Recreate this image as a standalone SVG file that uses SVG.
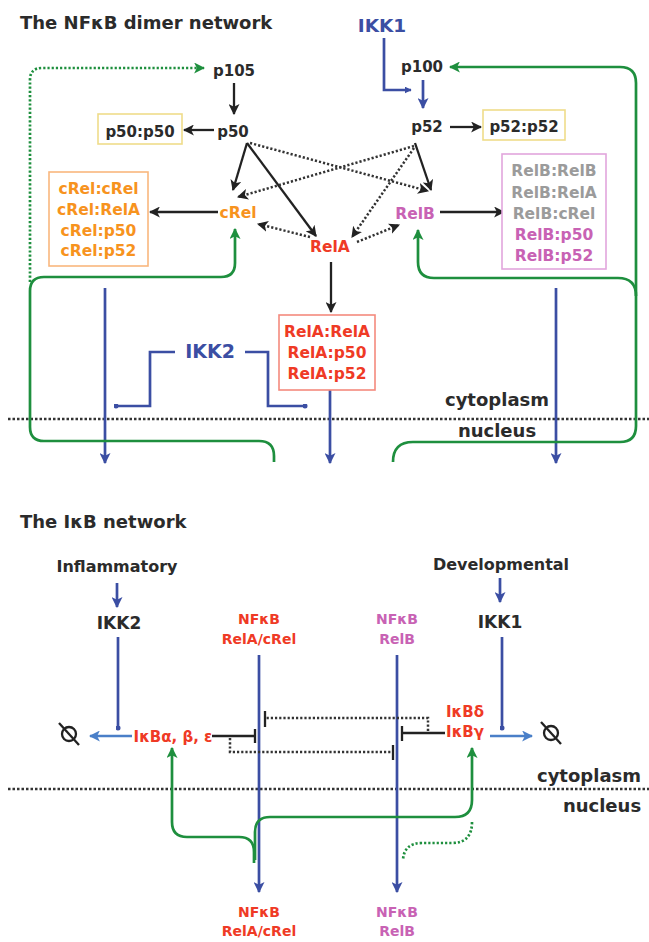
<svg xmlns="http://www.w3.org/2000/svg" width="649" height="942" viewBox="0 0 649 942">
<style>
text{font-family:"DejaVu Sans","Liberation Sans",sans-serif;font-weight:bold}
.dk{fill:#2b2b2b}
.bl{fill:#3b4ea3}
.rd{fill:#ef3a25}
.or{fill:#f7931e}
.pk{fill:#c862b4}
.gy{fill:#9b9b9b}
.c{text-anchor:middle}
.ln{fill:none;stroke:#222;stroke-width:2.3}
.dt{fill:none;stroke:#333;stroke-width:2.5;stroke-dasharray:2.2 2}
.bu{fill:none;stroke:#3b4ea3;stroke-width:2.7}
.lb{fill:none;stroke:#4a7fc8;stroke-width:2.7}
.gr{fill:none;stroke:#1e8f3e;stroke-width:2.7}
.gd{fill:none;stroke:#1e8f3e;stroke-width:2.7;stroke-dasharray:2.2 2}
.div{fill:none;stroke:#333;stroke-width:2.7;stroke-dasharray:2.5 2}
.box{fill:#fff;stroke-width:1.6}
</style>
<defs>
<marker id="ak" markerUnits="userSpaceOnUse" viewBox="0 0 10 10" refX="9" refY="5" markerWidth="11" markerHeight="11" orient="auto"><path d="M0,0 L10,5 L0,10 L2.5,5 z" fill="#222"/></marker>
<marker id="ab" markerUnits="userSpaceOnUse" viewBox="0 0 10 10" refX="9" refY="5" markerWidth="11" markerHeight="11" orient="auto"><path d="M0,0 L10,5 L0,10 L2.5,5 z" fill="#3b4ea3"/></marker>
<marker id="alb" markerUnits="userSpaceOnUse" viewBox="0 0 10 10" refX="9" refY="5" markerWidth="11" markerHeight="11" orient="auto"><path d="M0,0 L10,5 L0,10 L2.5,5 z" fill="#4a7fc8"/></marker>
<marker id="asb" markerUnits="userSpaceOnUse" viewBox="0 0 10 10" refX="9" refY="5" markerWidth="7" markerHeight="7" orient="auto"><path d="M0,0 L10,5 L0,10 z" fill="#3b4ea3"/></marker>
<marker id="ag" markerUnits="userSpaceOnUse" viewBox="0 0 10 10" refX="9" refY="5" markerWidth="11" markerHeight="11" orient="auto"><path d="M0,0 L10,5 L0,10 L2.5,5 z" fill="#1e8f3e"/></marker>
<marker id="db" markerUnits="userSpaceOnUse" viewBox="0 0 10 10" refX="5" refY="5" markerWidth="5" markerHeight="5"><circle cx="5" cy="5" r="5" fill="#3b4ea3"/></marker>
</defs>

<!-- titles and dividers -->
<text x="20" y="29" font-size="18" class="dk">The NFκB dimer network</text>
<text x="20" y="528" font-size="18" class="dk">The IκB network</text>
<path class="div" d="M8,419 L649,419"/>
<path class="div" d="M8,789 L649,789"/>
<text x="497" y="406" font-size="18" class="dk c">cytoplasm</text>
<text x="497" y="437" font-size="18" class="dk c">nucleus</text>
<text x="589" y="782" font-size="18" class="dk c">cytoplasm</text>
<text x="602" y="812" font-size="18" class="dk c">nucleus</text>

<!-- connectors -->
<g id="connectors">
<path class="ln" d="M234,83 L234,114" marker-end="url(#ak)"/>
<path class="ln" d="M214,130 L184,130" marker-end="url(#ak)"/>
<path class="ln" d="M247,143 L233,190" marker-end="url(#ak)"/>
<path class="ln" d="M247,143 L316,236" marker-end="url(#ak)"/>
<path class="dt" d="M250,143 L428,191" marker-end="url(#ak)"/>
<path class="dt" d="M414,146 L238,197" marker-end="url(#ak)"/>
<path class="dt" d="M414,148 L352,237" marker-end="url(#ak)"/>
<path class="ln" d="M415,143 L431,190" marker-end="url(#ak)"/>
<path class="dt" d="M310,237 L258,224" marker-end="url(#ak)"/>
<path class="dt" d="M357,242 L399,225" marker-end="url(#ak)"/>
<path class="ln" d="M218,212 L150,212" marker-end="url(#ak)"/>
<path class="ln" d="M440,212 L504,212" marker-end="url(#ak)"/>
<path class="ln" d="M450,127 L481,127" marker-end="url(#ak)"/>
<path class="ln" d="M331,262 L331,312" marker-end="url(#ak)"/>

<path class="bu" d="M384,38 L384,90 L411,90" marker-end="url(#asb)"/>
<path class="bu" d="M423,80 L423,108" marker-end="url(#ab)"/>
<path class="bu" d="M105,288 L105,463" marker-end="url(#ab)"/>
<path class="bu" d="M330,390 L330,463" marker-end="url(#ab)"/>
<path class="bu" d="M556,288 L556,463" marker-end="url(#ab)"/>
<path class="bu" d="M175,352 L150,352 L150,406 L116,406" marker-end="url(#db)"/>
<path class="bu" d="M245,352 L268,352 L268,406 L305,406" marker-end="url(#db)"/>

<path class="gd" d="M30,282 L30,80 Q30,68 42,68 L204,68" marker-end="url(#ag)"/>
<path class="gr" d="M274,462 L274,456 Q274,441 259,441 L44,441 Q30,441 30,427 L30,291 Q30,277 44,277 L221,277 Q235,277 235,263 L235,229" marker-end="url(#ag)"/>
<path class="gr" d="M393,462 Q393,442 413,442 L620,442 Q636,442 636,426 L636,83 Q636,67 620,67 L450,67" marker-end="url(#ag)"/>
<path class="gr" d="M636,296 Q636,278 618,278 L434,278 Q418,278 418,262 L418,230" marker-end="url(#ag)"/>

<path class="bu" d="M117,583 L117,607" marker-end="url(#ab)"/>
<path class="bu" d="M118,637 L118,728" marker-end="url(#db)"/>
<path class="lb" d="M132,736 L90,736" marker-end="url(#alb)"/>
<path class="bu" d="M500,578 L500,602" marker-end="url(#ab)"/>
<path class="bu" d="M502,637 L502,728" marker-end="url(#db)"/>
<path class="lb" d="M490,736 L532,736" marker-end="url(#alb)"/>
<path class="bu" d="M259,655 L259,892" marker-end="url(#ab)"/>
<path class="bu" d="M397,655 L397,892" marker-end="url(#ab)"/>

<path class="ln" d="M212,736 L255,736 M255,729 L255,743"/>
<path class="dt" d="M230,738 L230,752 L393,752"/>
<path class="ln" d="M393,745 L393,760"/>
<path class="dt" d="M428,731 L428,718 L266,718"/>
<path class="ln" d="M265,711 L265,727"/>
<path class="ln" d="M445,733 L402,733 M402,726 L402,741"/>

<path class="gr" d="M254,863 L254,852 Q254,837 239,837 L187,837 Q172,837 172,822 L172,748" marker-end="url(#ag)"/>
<path class="gr" d="M255,860 L255,832 Q255,817 270,817 L455,817 Q472,817 472,800 L472,748" marker-end="url(#ag)"/>
<path class="gd" d="M472,822 Q472,843 452,843 L422,843 Q404,843 403,860"/>
</g>

<!-- nodes -->
<g id="p105"><text x="234" y="76" font-size="15" class="dk c">p105</text></g>
<g id="p50"><text x="233" y="137" font-size="15" class="dk c">p50</text></g>
<g id="p50p50"><rect class="box" x="98" y="114" width="84" height="30" stroke="#efdc8a"/><text x="140" y="137" font-size="15" class="dk c">p50:p50</text></g>
<g id="IKK1top"><text x="382" y="32" font-size="18.5" class="bl c">IKK1</text></g>
<g id="p100"><text x="422" y="72" font-size="15" class="dk c">p100</text></g>
<g id="p52"><text x="427" y="132" font-size="15" class="dk c">p52</text></g>
<g id="p52p52"><rect class="box" x="483" y="110" width="82" height="30" stroke="#efdc8a"/><text x="524" y="132" font-size="15" class="dk c">p52:p52</text></g>
<g id="cRel"><text x="238" y="218" font-size="15.5" class="or c">cRel</text></g>
<g id="cRelbox"><rect class="box" x="49" y="172" width="99" height="94" stroke="#f9b77e"/>
<text x="98.5" y="194" font-size="15.5" class="or c">cRel:cRel</text>
<text x="98.5" y="215" font-size="15.5" class="or c">cRel:RelA</text>
<text x="98.5" y="235.5" font-size="15.5" class="or c">cRel:p50</text>
<text x="98.5" y="256" font-size="15.5" class="or c">cRel:p52</text></g>
<g id="RelB"><text x="415" y="219" font-size="15.5" class="pk c">RelB</text></g>
<g id="RelBbox"><rect class="box" x="502" y="154" width="104" height="115" stroke="#e2a6dc"/>
<text x="554" y="176" font-size="15.5" class="gy c">RelB:RelB</text>
<text x="554" y="197.5" font-size="15.5" class="gy c">RelB:RelA</text>
<text x="554" y="218.5" font-size="15.5" class="gy c">RelB:cRel</text>
<text x="554" y="240" font-size="15.5" class="pk c">RelB:p50</text>
<text x="554" y="261" font-size="15.5" class="pk c">RelB:p52</text></g>
<g id="RelA"><text x="330" y="252" font-size="15.5" class="rd c">RelA</text></g>
<g id="RelAbox"><rect class="box" x="279" y="315" width="96" height="75" stroke="#f48a7e"/>
<text x="327" y="337" font-size="15.5" class="rd c">RelA:RelA</text>
<text x="327" y="358" font-size="15.5" class="rd c">RelA:p50</text>
<text x="327" y="379" font-size="15.5" class="rd c">RelA:p52</text></g>
<g id="IKK2mid"><text x="210" y="358" font-size="19" class="bl c">IKK2</text></g>

<g id="Inflammatory"><text x="117" y="572" font-size="16" class="dk c">Inflammatory</text></g>
<g id="IKK2"><text x="119" y="629" font-size="17" class="dk c">IKK2</text></g>
<g id="Developmental"><text x="501" y="570" font-size="16" class="dk c">Developmental</text></g>
<g id="IKK1"><text x="500" y="628" font-size="17" class="dk c">IKK1</text></g>
<g id="NFkB1top"><text x="259" y="624" font-size="14" class="rd c">NFκB</text><text x="259" y="644" font-size="14" class="rd c">RelA/cRel</text></g>
<g id="NFkB2top"><text x="397" y="624" font-size="14" class="pk c">NFκB</text><text x="397" y="644" font-size="14" class="pk c">RelB</text></g>
<g id="NFkB1bot"><text x="259" y="917" font-size="14" class="rd c">NFκB</text><text x="259" y="936" font-size="14" class="rd c">RelA/cRel</text></g>
<g id="NFkB2bot"><text x="397" y="917" font-size="14" class="pk c">NFκB</text><text x="397" y="936" font-size="14" class="pk c">RelB</text></g>
<g id="IkBabe"><text x="173" y="742" font-size="15" class="rd c">IκBα, β, ε</text></g>
<g id="IkBdg"><text x="465" y="717" font-size="15" class="rd c">IκBδ</text><text x="465" y="737" font-size="15" class="rd c">IκBγ</text></g>
<g id="null1"><circle cx="69" cy="734" r="7" fill="none" stroke="#222" stroke-width="2.3"/><path class="ln" d="M59,723 L79,745"/></g>
<g id="null2"><circle cx="551" cy="733" r="7" fill="none" stroke="#222" stroke-width="2.3"/><path class="ln" d="M541,722 L561,744"/></g>
</svg>
